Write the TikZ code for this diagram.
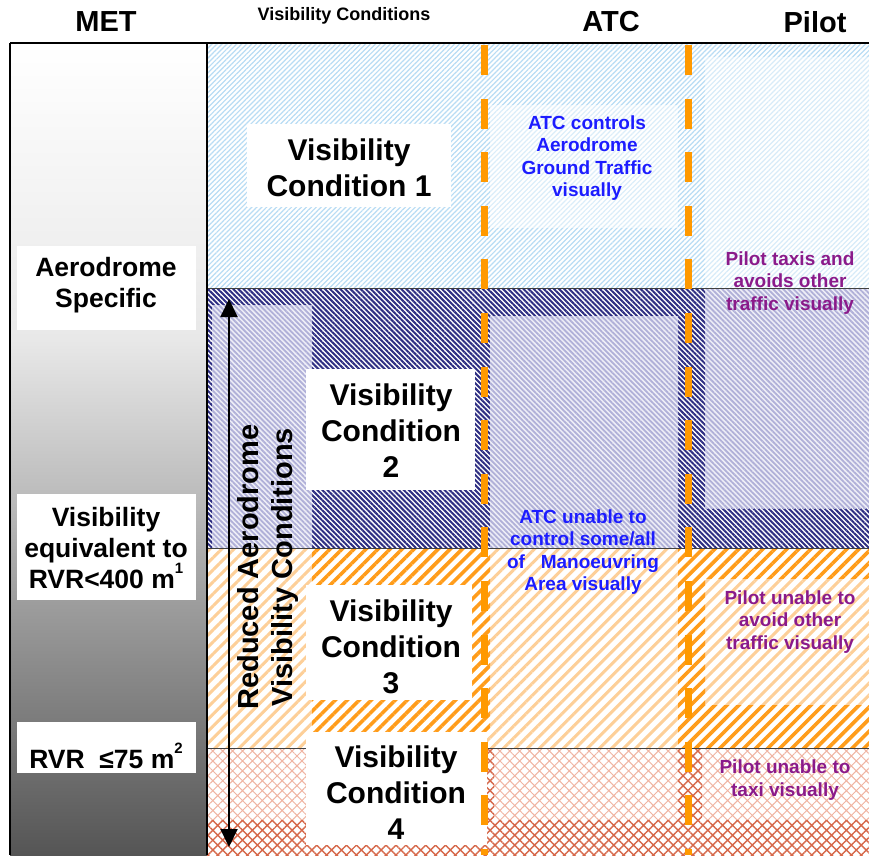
\documentclass[tikz,border=0pt]{standalone}
\usepackage{fontspec}
\setmainfont{Liberation Sans}
\usetikzlibrary{patterns.meta,arrows.meta}
\definecolor{lblue}{HTML}{B8DCF4}
\definecolor{navyl}{HTML}{2E2E82}
\definecolor{lavl}{HTML}{B0B0D8}
\definecolor{lavbg}{HTML}{EEEEF7}
\definecolor{orb}{HTML}{FF9C1A}
\definecolor{orl}{HTML}{FDCF98}
\definecolor{xl}{HTML}{F0B4A2}
\definecolor{xd}{HTML}{D6684A}
\definecolor{atcblue}{HTML}{1C1CFF}
\definecolor{pilotp}{HTML}{8A1A8A}
\definecolor{metmid}{HTML}{E8E8E8}
\definecolor{metdark}{HTML}{555555}
\definecolor{dashor}{HTML}{FF9900}
\tikzset{
  bluehatch/.style={pattern={Lines[angle=45,distance=3.5pt,line width=1.2pt]},pattern color=lblue},
  navyhatch/.style={preaction={fill=white},pattern={Lines[angle=-45,distance=3.6pt,line width=2pt]},pattern color=navyl},
  lavhatch/.style={preaction={fill=lavbg},pattern={Lines[angle=-45,distance=3.6pt,line width=1.8pt]},pattern color=lavl},
  orlight/.style={preaction={fill=white},pattern={Lines[angle=45,distance=8.5pt,line width=3pt]},pattern color=orl},
  orbold/.style={preaction={fill=white},pattern={Lines[angle=45,distance=8.5pt,line width=3.6pt]},pattern color=orb},
  xlight/.style={preaction={fill=white},pattern={Hatch[angle=45,distance=7pt,line width=1pt]},pattern color=xl},
  xdark/.style={preaction={fill=white},pattern={Hatch[angle=45,distance=7pt,line width=1.4pt]},pattern color=xd},
  wbox/.style={fill=white,inner sep=0pt,draw=none},
  hdr/.style={font=\fontsize{29}{34}\selectfont\bfseries,inner sep=0pt},
  vctext/.style={align=center,font=\fontsize{30}{36}\selectfont\bfseries,inner sep=0pt},
  mettext/.style={align=center,font=\fontsize{26.5}{31}\selectfont\bfseries,inner sep=0pt},
  atctext/.style={align=center,font=\fontsize{19}{22.3}\selectfont\bfseries,text=atcblue,inner sep=0pt},
  pilottext/.style={align=center,font=\fontsize{19}{22.3}\selectfont\bfseries,text=pilotp,inner sep=0pt},
  dashline/.style={draw=dashor,line width=7pt,dash pattern=on 30pt off 23.6pt},
  sepline/.style={draw=black!75,line width=0.8pt},
  frameline/.style={draw=black,line width=1.5pt},
}
\begin{document}
\begin{tikzpicture}[x=1pt,y=1pt]
\useasboundingbox (0,0) rectangle (869,-855);
\fill[white] (0,0) rectangle (869,-855);

% MET column gradient
\shade[top color=white,bottom color=metmid] (10,-43) rectangle (207,-340);
\shade[top color=metmid,bottom color=metdark] (10,-340) rectangle (207,-855.5);

% Row 1
\fill[bluehatch] (207,-43) rectangle (869,-288);
\fill[white,fill opacity=0.45] (705,-57) rectangle (869,-288);
\fill[white,fill opacity=0.5] (490,-105) rectangle (678,-228);

% Row 2
\fill[navyhatch] (207,-288) rectangle (705,-548);
\fill[navyhatch] (705,-508) rectangle (869,-548);
\fill[lavhatch] (212,-305) rectangle (312,-548);
\fill[lavhatch] (490,-316) rectangle (678,-548);
\fill[lavhatch] (705,-288) rectangle (869,-508);

% Row 3
\fill[orlight] (207,-548) rectangle (869,-748);
\fill[orbold] (312,-548) rectangle (490,-732);
\fill[orbold] (678,-548) rectangle (705,-748);
\fill[orbold] (705,-548) rectangle (869,-578);
\fill[orbold] (705,-705) rectangle (869,-748);

% Row 4
\fill[xlight] (207,-748) rectangle (869,-855);
\fill[xdark] (207,-820) rectangle (869,-855);
\fill[xdark] (678,-748) rectangle (702,-855);
\fill[xdark] (484,-748) rectangle (494,-855);

% separators
\draw[sepline] (207,-288) -- (869,-288);
\draw[sepline] (207,-548) -- (869,-548);
\draw[sepline] (207,-748) -- (869,-748);

% white boxes
\node[wbox,minimum width=204pt,minimum height=83pt] (vc1box) at (349,-165.5) {};
\node[wbox,minimum width=169pt,minimum height=121pt] (vc2box) at (390.5,-429.5) {};
\node[wbox,minimum width=166pt,minimum height=115pt] (vc3box) at (389,-642.5) {};
\node[wbox,minimum width=181pt,minimum height=113pt] (vc4box) at (396.5,-788.5) {};
\node[wbox,minimum width=179pt,minimum height=84pt] (m1box) at (106.5,-288) {};
\node[wbox,minimum width=179pt,minimum height=106pt] (m2box) at (106.5,-547) {};
\node[wbox,minimum width=179pt,minimum height=51pt] (m3box) at (106.5,-747.5) {};

% frame
\draw[frameline] (10,-43) -- (869,-43);
\draw[frameline] (10,-43) -- (10,-855);
\draw[draw=black,line width=1.2pt] (207,-43) -- (207,-855);

% dashed orange lines
\coordinate (d1top) at (484,-45);
\coordinate (d1bot) at (484,-855);
\coordinate (d2top) at (688,-45);
\coordinate (d2bot) at (688,-855);
\draw[dashline] (d1top) -- (d1bot);
\draw[dashline] (d2top) -- (d2bot);

% headers
\node[hdr] (met) at (106,-22) {MET};
\node[font=\fontsize{18}{20}\selectfont\bfseries,inner sep=0pt] (vch) at (344,-16) {Visibility Conditions};
\node[hdr] (atc) at (611,-22) {ATC};
\node[hdr] (pilot) at (815,-22) {Pilot};

% VC texts
\node[vctext] (vc1) at (349,-168) {Visibility\\Condition 1};
\node[vctext] (vc2) at (391,-431) {Visibility\\Condition\\2};
\node[vctext] (vc3) at (391,-647) {Visibility\\Condition\\3};
\node[vctext] (vc4) at (396,-792.5) {Visibility\\Condition\\4};

% MET texts
\node[mettext] (m1) at (106,-285) {Aerodrome\\Specific};
\node[mettext] (m2) at (106,-548) {Visibility\\equivalent to\\RVR<400 m\raisebox{1.05ex}{\fontsize{15}{15}\selectfont 1}};
\node[mettext] (m3) at (106,-756) {RVR~~≤75 m\raisebox{1.05ex}{\fontsize{15}{15}\selectfont 2}};

% ATC texts
\node[atctext] (atc1) at (587,-158) {ATC controls\\Aerodrome\\Ground Traffic\\visually};
\node[atctext] (atc2) at (583,-552) {ATC unable to\\control some/all\\of~~~Manoeuvring\\Area visually};

% Pilot texts
\node[pilottext] (p1) at (790,-283) {Pilot taxis and\\avoids other\\traffic visually};
\node[pilottext] (p2) at (790,-622) {Pilot unable to\\avoid other\\traffic visually};
\node[pilottext] (p3) at (785,-780) {Pilot unable to\\taxi visually};

% rotated label
\node[align=center,font=\fontsize{29}{34}\selectfont\bfseries,inner sep=0pt,rotate=90] (red) at (268,-567) {Reduced Aerodrome\\Visibility Conditions};

% arrow
\coordinate (atop) at (229,-299);
\coordinate (abot) at (229,-847);
\draw[line width=2pt,{Triangle[length=18pt,width=17pt]}-{Triangle[length=18pt,width=17pt]}] (atop) -- (abot);
\end{tikzpicture}
\end{document}
